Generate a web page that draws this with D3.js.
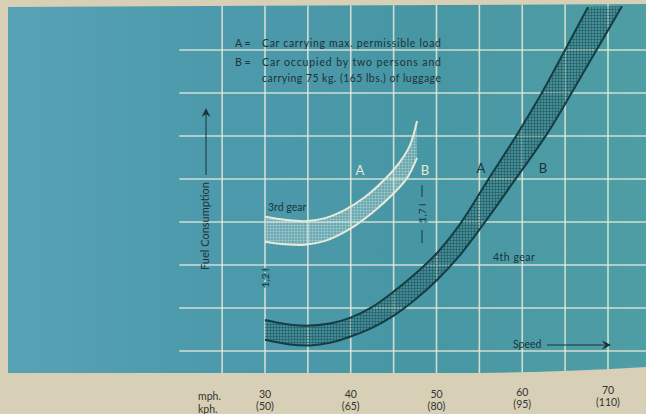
<!DOCTYPE html>
<html>
<head>
<meta charset="utf-8">
<script src="https://cdn.jsdelivr.net/npm/d3@7"></script>
<style>
  body { margin: 0; background: #d8cfb7; }
  svg { display: block; }
  text { font-family: Lato, "DejaVu Sans", sans-serif; }
</style>
</head>
<body>
<div id="chart"></div>
<script>
/* DATA (speed in mph, consumption in grid steps) */
const mphTicks = [30, 40, 50, 60, 70];
const kphTicks = ["(50)", "(65)", "(80)", "(95)", "(110)"];
const gridMph = [25, 30, 35, 40, 45, 50, 55, 60, 65, 70];
const gridLevels = [0, 1, 2, 3, 4, 5, 6, 7];

// 4th gear: A = max load, B = two persons + luggage
const gear4A = [[30, 0.72], [32.33, 0.63], [34.66, 0.59], [37.58, 0.64], [39.91, 0.77], [42.48, 1.02],
  [44.93, 1.37], [47.49, 1.79], [50.06, 2.28], [52.74, 2.95], [56.01, 3.98], [59.5, 5.07],
  [62.42, 6.05], [64.99, 7.0], [67.67, 8.0]];
const gear4B = [[30, 0.26], [32.92, 0.15], [35.25, 0.13], [37.58, 0.19], [39.91, 0.33], [42.48, 0.54],
  [44.93, 0.81], [47.49, 1.19], [50.06, 1.65], [52.74, 2.23], [55.66, 3.0], [59.15, 3.98],
  [62.89, 5.05], [65.8, 6.02], [68.72, 7.02], [71.63, 8.02]];
// 3rd gear
const gear3A = [[30, 3.12], [32.33, 3.05], [34.66, 3.02], [37.0, 3.09], [39.33, 3.28], [41.66, 3.58],
  [44.0, 4.0], [45.74, 4.4], [46.91, 4.79], [47.73, 5.35]];
const gear3B = [[30, 2.54], [32.33, 2.48], [34.66, 2.47], [37.0, 2.56], [39.91, 2.84], [42.48, 3.21],
  [44.93, 3.65], [46.56, 4.02], [47.73, 4.49]];

const legendLines = [
  { key: "A =", text: "Car carrying max. permissible load" },
  { key: "B =", text: "Car occupied by two persons and" },
  { key: "", text: "carrying 75 kg. (165 lbs.) of luggage" }
];

/* LAYOUT */
const width = 646, height = 414;
const teal = "#4a97a5", dark = "#163d43", light = "#e6ead8", ink = "#35352f", label = "#1d3337";

const svg = d3.select("#chart").append("svg")
  .attr("width", width)
  .attr("height", height);

const xScale = d3.scaleLinear().domain([30, 70]).range([265, 608]);
const yScale = d3.scaleLinear().domain([0, 7]).range([351, 50]);

const defs = svg.append("defs");
const grad = defs.append("linearGradient").attr("id", "panelGrad");
grad.append("stop").attr("offset", "0%").attr("stop-color", "#58a2b5");
grad.append("stop").attr("offset", "30%").attr("stop-color", "#4d9aad");
grad.append("stop").attr("offset", "65%").attr("stop-color", "#4796a4");
grad.append("stop").attr("offset", "100%").attr("stop-color", "#4f9ea5");

const panelPath = "M8,7 L646,4 L646,367 Q560,372 480,373 L8,373 Z";
defs.append("clipPath").attr("id", "panelClip").append("path").attr("d", panelPath);

// crosshatch patterns
function hatch(id, color, op) {
  const p = defs.append("pattern").attr("id", id)
    .attr("patternUnits", "userSpaceOnUse").attr("width", 3).attr("height", 3);
  p.append("path").attr("d", "M0,0.5H3M0.5,0V3")
    .attr("stroke", color).attr("stroke-width", 1).attr("stroke-opacity", op);
}
hatch("hatchDark", "#1f4f56", 0.5);
hatch("hatchLight", "#d9e6dc", 0.28);

svg.append("path").attr("d", panelPath).attr("fill", "url(#panelGrad)");

const plot = svg.append("g").attr("clip-path", "url(#panelClip)");

// GRID
plot.selectAll(".hgrid").data(gridLevels).join("line")
  .attr("class", "hgrid")
  .attr("x1", xScale(20)).attr("x2", width)
  .attr("y1", d => yScale(d)).attr("y2", d => yScale(d))
  .attr("stroke", light).attr("stroke-opacity", 0.85).attr("stroke-width", 1.6);

plot.selectAll(".vgrid").data(gridMph).join("line")
  .attr("class", "vgrid")
  .attr("x1", d => xScale(d)).attr("x2", d => xScale(d))
  .attr("y1", 0).attr("y2", 380)
  .attr("stroke", light).attr("stroke-opacity", 0.85).attr("stroke-width", 1.6);

// BANDS
const line = d3.line()
  .x(d => xScale(d[0]))
  .y(d => yScale(d[1]))
  .curve(d3.curveCatmullRom.alpha(0.5));

function band(a, b) {
  // upper edge forward, lower edge back, closed
  const pa = line(a);
  const pb = line(b.slice().reverse());
  return pa + "L" + pb.slice(1) + "Z";
}

plot.append("path").attr("d", band(gear3A, gear3B))
  .attr("fill", "#b7d3d2").attr("fill-opacity", 0.3);
plot.append("path").attr("d", band(gear3A, gear3B))
  .attr("fill", "url(#hatchLight)");
[gear3A, gear3B].forEach(s => {
  plot.append("path").attr("d", line(s))
    .attr("fill", "none").attr("stroke", light).attr("stroke-width", 2);
});

plot.append("path").attr("d", band(gear4A, gear4B))
  .attr("fill", "#2f6f78").attr("fill-opacity", 0.3);
plot.append("path").attr("d", band(gear4A, gear4B))
  .attr("fill", "url(#hatchDark)");
[gear4A, gear4B].forEach(s => {
  plot.append("path").attr("d", line(s))
    .attr("fill", "none").attr("stroke", dark).attr("stroke-width", 2);
});

// LABELS ON CHART
const legend = svg.append("g").attr("fill", label).attr("font-size", 10.5);
legendLines.forEach((l, i) => {
  const yy = [47, 66, 82][i];
  if (l.key) legend.append("text").attr("x", 235).attr("y", yy).text(l.key);
  legend.append("text").attr("x", 262).attr("y", yy)
    .attr("textLength", 179).attr("lengthAdjust", "spacing").text(l.text);
});

svg.append("text").attr("x", 268).attr("y", 211).attr("font-size", 10.5)
  .attr("fill", label).text("3rd gear");
svg.append("text").attr("x", 493).attr("y", 261).attr("font-size", 10.5)
  .attr("fill", label).attr("letter-spacing", 0.5).text("4th gear");

svg.append("text").attr("x", 360).attr("y", 175).attr("text-anchor", "middle")
  .attr("font-size", 13).attr("fill", light).text("A");
svg.append("text").attr("x", 425).attr("y", 175).attr("text-anchor", "middle")
  .attr("font-size", 13).attr("fill", light).text("B");
svg.append("text").attr("x", 481).attr("y", 173).attr("text-anchor", "middle")
  .attr("font-size", 13).attr("fill", label).text("A");
svg.append("text").attr("x", 543).attr("y", 173).attr("text-anchor", "middle")
  .attr("font-size", 13).attr("fill", label).text("B");

// dimension markers
function dimLabel(x, yc, txt) {
  svg.append("text")
    .attr("transform", `translate(${x + 3.5},${yc}) rotate(-90)`)
    .attr("text-anchor", "middle").attr("font-size", 10).attr("fill", label)
    .attr("stroke", teal).attr("stroke-width", 3).attr("paint-order", "stroke")
    .text(txt);
}
dimLabel(265, 278, "1,2 l");
dimLabel(422, 213, "1,7 l");
svg.append("line").attr("x1", 422).attr("x2", 422).attr("y1", 185).attr("y2", 197)
  .attr("stroke", label).attr("stroke-width", 1);
svg.append("line").attr("x1", 422).attr("x2", 422).attr("y1", 230).attr("y2", 243)
  .attr("stroke", label).attr("stroke-width", 1);

// axis arrows
const arrowHead = "M0,0 L-9,-4.5 L-6,0 L-9,4.5 Z";
svg.append("text")
  .attr("transform", "translate(209,270) rotate(-90)")
  .attr("font-size", 11).attr("fill", label).text("Fuel Consumption");
svg.append("line").attr("x1", 206).attr("x2", 206).attr("y1", 175).attr("y2", 114)
  .attr("stroke", label).attr("stroke-width", 1);
svg.append("path").attr("d", arrowHead)
  .attr("transform", "translate(206,108) rotate(-90)").attr("fill", label);

svg.append("text").attr("x", 513).attr("y", 348)
  .attr("font-size", 10.5).attr("fill", label).text("Speed");
svg.append("line").attr("x1", 547).attr("x2", 604).attr("y1", 345).attr("y2", 345)
  .attr("stroke", label).attr("stroke-width", 1);
svg.append("path").attr("d", arrowHead)
  .attr("transform", "translate(611,345)").attr("fill", label);

// X AXIS LABELS (below the panel)
const axis = svg.append("g").attr("fill", ink).attr("font-size", 10.5);
axis.append("text").attr("x", 198).attr("y", 400).text("mph.");
axis.append("text").attr("x", 198).attr("y", 413).text("kph.");
axis.selectAll(".mph").data(mphTicks).join("text")
  .attr("class", "mph")
  .attr("x", d => xScale(d)).attr("y", (d, i) => 398 - Math.max(0, i - 2) * 2)
  .attr("text-anchor", "middle").text(d => d);
axis.selectAll(".kph").data(kphTicks).join("text")
  .attr("class", "kph")
  .attr("x", (d, i) => xScale(mphTicks[i])).attr("y", (d, i) => 410 - Math.max(0, i - 2) * 2)
  .attr("text-anchor", "middle").text(d => d);
</script>
</body>
</html>
